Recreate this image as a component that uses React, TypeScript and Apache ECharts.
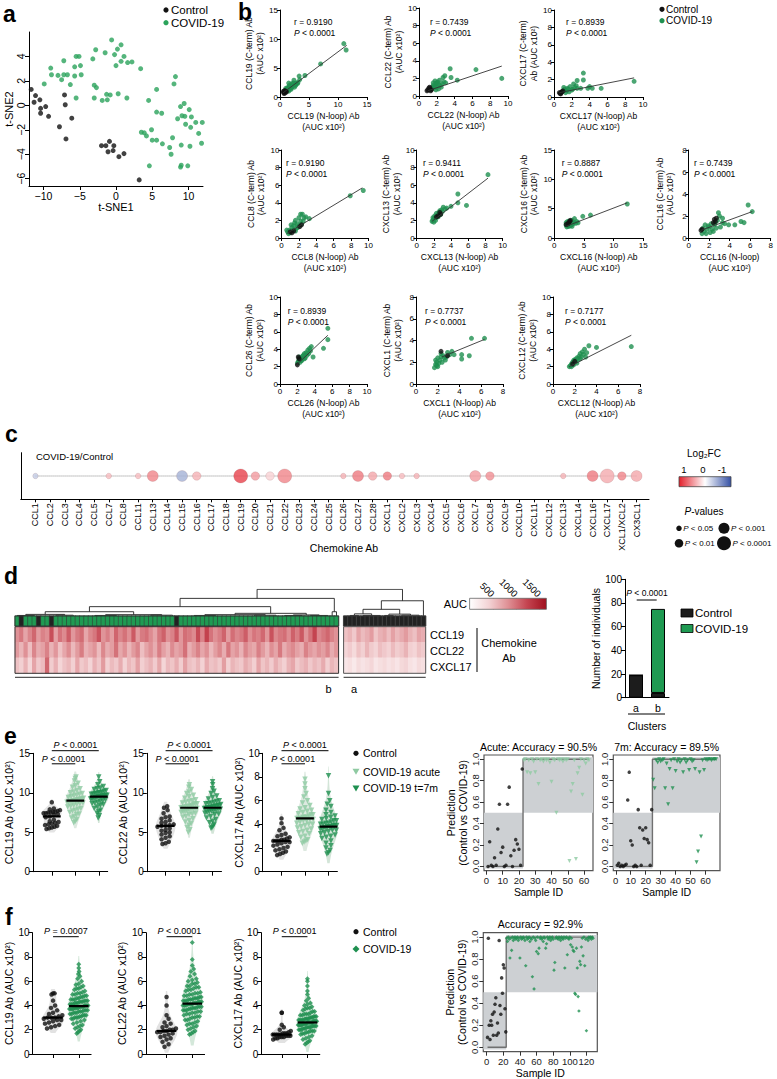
import React, { useEffect, useRef } from "react";
import * as echarts from "echarts";

/* ============================ DATA ============================ */

// a — t-SNE
const TSNE_CONTROL: number[][] = [
  [-11.7, 1.3], [-11.1, 0.8], [-11.3, 0.25], [-10.5, 0.45], [-10.4, -0.25], [-10.4, -0.65],
  [-9.7, -0.1], [-9.3, -0.9], [-7.1, 0.85], [-7.0, 0.05], [-6.1, -1.05], [-7.8, -1.75],
  [-6.9, -2.75], [-2.0, -3.3], [-1.4, -3.3], [-0.9, -2.95], [-0.3, -3.3], [-1.1, -3.8],
  [-0.4, -3.7], [0.4, -4.2], [1.1, -3.95], [3.2, -6.1],
];
const TSNE_COVID: number[][] = [
  [-0.6, 5.35], [0.7, 4.95], [0.2, 4.6], [-2.8, 4.55], [-1.5, 4.3], [-0.2, 4.15], [1.1, 4.0],
  [-5.5, 4.0], [-5.1, 4.0], [-3.2, 3.8], [-7.2, 3.65], [0.7, 3.6], [1.6, 3.5], [2.2, 3.55],
  [0.0, 3.25], [-4.9, 3.25], [-5.7, 3.15], [-9.0, 3.05], [3.4, 3.0], [-8.9, 2.5], [-8.0, 2.45],
  [-7.2, 2.5], [-6.7, 2.5], [-5.7, 2.4], [-4.8, 2.5], [-7.5, 2.1], [-6.3, 1.7], [-9.9, 1.75],
  [8.2, 2.35], [8.0, 1.75], [-3.0, 1.65], [-2.7, 1.45], [5.6, 1.3], [-1.3, 0.9], [-0.8, 0.85],
  [0.3, 0.95], [-5.5, 0.6], [-3.0, 0.6], [-1.9, 0.4], [-1.2, 0.45], [1.5, 0.6], [4.5, 0.4],
  [9.4, 0.15], [8.9, -0.1], [10.1, -0.35], [5.6, -0.55], [6.3, -0.65], [9.1, -0.85], [9.5, -0.9],
  [10.4, -0.95], [8.5, -1.1], [11.0, -1.4], [9.6, -1.55], [10.3, -1.8], [3.5, -2.2], [3.9, -2.25],
  [4.9, -2.0], [4.2, -2.5], [11.4, -2.3], [11.8, -3.1], [7.8, -2.65], [5.0, -2.85], [5.6, -2.85],
  [6.4, -3.15], [7.4, -3.45], [9.0, -3.25], [10.2, -3.35], [7.6, -4.0], [4.6, -4.95], [9.0, -4.9],
  [8.9, -5.05], [9.9, -4.95], [11.9, -1.4],
];

// b — C-term vs N-loop correlations
const B_NAMES = ["CCL19", "CCL22", "CXCL17", "CCL8", "CXCL13", "CXCL16", "CCL16", "CCL26", "CXCL1", "CXCL12"];
const B_R = ["0.9190", "0.7439", "0.8939", "0.9190", "0.9411", "0.8887", "0.7439", "0.8939", "0.7737", "0.7177"];
const B_XNAMES = [
  "CCL19 (N-loop) Ab\n(AUC x10²)", "CCL22 (N-loop) Ab\n(AUC x10²)", "CXCL17 (N-loop) Ab\n(AUC x10²)",
  "CCL8 (N-loop) Ab\n(AUC x10²)", "CXCL13 (N-loop) Ab\n(AUC x10²)", "CXCL16 (N-loop) Ab\n(AUC x10²)",
  "CCL16 (N-loop)\n(AUC x10²)", "CCL26 (N-loop) Ab\n(AUC x10²)", "CXCL1 (N-loop) Ab\n(AUC x10²)",
  "CXCL12 (N-loop) Ab\n(AUC x10²)",
];
const B_YNAMES = [
  "CCL19 (C-term) Ab\n(AUC x10²)", "CCL22 (C-term) Ab\n(AUC x10²)", "CXCL17 (C-term)\nAb (AUC x10²)",
  "CCL8 (C-term) Ab\n(AUC x10²)", "CXCL13 (C-term) Ab\n(AUC x10²)", "CXCL16 (C-term) Ab\n(AUC x10²)",
  "CCL16 (C-term) Ab\n(AUC x10²)", "CCL26 (C-term) Ab\n(AUC x10²)", "CXCL1 (C-term) Ab\n(AUC x10²)",
  "CXCL12 (C-term) Ab\n(AUC x10²)",
];
const B_XRANGE = [[15, 5], [10, 2], [10, 2], [10, 2], [10, 2], [15, 5], [8, 2], [10, 2], [8, 2], [8, 2]];
const B_YRANGE = [[15, 5], [10, 2], [10, 2], [10, 2], [10, 2], [15, 5], [8, 2], [10, 2], [8, 2], [10, 2]];

const B_CCL19_COVID = [[11.0, 9.2], [11.4, 8.1], [7.0, 5.7], [4.3, 3.7], [3.3, 3.6], [3.4, 3.0], [2.4, 2.9], [2.3, 2.4], [2.0, 2.3], [1.6, 2.0], [1.5, 2.4], [1.3, 1.6], [1.0, 1.5], [1.7, 1.4], [2.0, 1.6], [2.7, 2.0], [3.0, 2.3], [1.2, 1.1], [1.8, 1.9], [2.5, 1.7], [1.4, 1.2], [2.2, 1.9], [3.1, 2.5], [2.8, 2.4], [1.1, 1.3], [1.9, 1.3], [1.6, 1.7], [2.6, 2.2], [0.9, 1.0], [1.5, 1.0]];
const B_CCL19_CONTROL = [[0.6, 0.8], [0.8, 0.9], [0.7, 0.6], [1.0, 1.0], [0.9, 0.7], [0.6, 1.0], [1.1, 0.9], [0.8, 1.1]];
const B_CCL19_FIT = [[0.5, 0.7], [11.5, 8.9]];

const B_CCL22_COVID = [[9.3, 2.0], [6.4, 3.0], [3.5, 3.1], [3.6, 2.1], [4.3, 1.8], [2.7, 2.1], [2.9, 2.3], [2.3, 1.8], [2.1, 1.6], [1.8, 1.7], [1.9, 1.4], [2.2, 1.3], [1.6, 1.2], [2.0, 1.0], [2.4, 1.2], [1.7, 0.9], [1.5, 1.0], [2.6, 1.4], [2.2, 0.8], [1.8, 1.1], [1.4, 0.8], [2.0, 1.5], [2.8, 1.6], [1.6, 1.5], [3.0, 1.5], [2.5, 1.0], [1.9, 0.7]];
const B_CCL22_CONTROL = [[1.0, 0.7], [1.2, 0.8], [1.3, 0.6], [1.1, 0.9], [1.4, 0.7], [0.9, 0.6], [1.2, 1.0]];
const B_CCL22_FIT = [[1.0, 0.6], [9.3, 3.4]];

const B_CXCL17_COVID = [[9.0, 1.8], [5.3, 1.0], [4.3, 1.0], [4.0, 1.2], [3.3, 2.75], [3.3, 1.95], [2.6, 1.9], [3.8, 1.0], [2.2, 1.5], [2.5, 1.3], [1.8, 1.2], [1.5, 1.0], [1.2, 0.9], [1.4, 0.7], [2.0, 0.8], [2.6, 1.0], [1.1, 1.1], [1.7, 0.6], [2.3, 1.1], [3.0, 1.0], [1.3, 0.5], [1.0, 0.7], [2.1, 0.9], [1.6, 0.9]];
const B_CXCL17_CONTROL = [[0.7, 0.4], [0.8, 0.5], [0.9, 0.6], [0.6, 0.5], [1.0, 0.7], [0.75, 0.35]];
const B_CXCL17_FIT = [[0.6, 0.5], [9.0, 2.2]];

const B_CCL8_COVID = [[9.4, 5.4], [7.9, 4.8], [2.2, 2.7], [2.4, 2.7], [2.6, 2.3], [3.2, 2.2], [2.0, 2.3], [1.6, 2.0], [1.8, 1.6], [2.2, 1.9], [1.4, 1.4], [1.2, 1.2], [1.9, 1.2], [0.9, 0.9], [0.7, 0.7], [0.6, 0.9], [1.0, 0.6], [1.5, 1.7], [2.0, 1.4], [1.3, 0.9], [0.8, 0.5], [1.7, 1.1], [2.3, 1.6], [1.1, 1.5], [2.8, 2.4], [1.6, 0.8], [2.5, 1.9]];
const B_CCL8_CONTROL = [[1.2, 0.6], [1.4, 0.8], [2.3, 1.5], [1.0, 0.7], [2.1, 1.3]];
const B_CCL8_FIT = [[0.6, 0.5], [9.3, 5.7]];

const B_CXCL13_COVID = [[8.3, 7.2], [4.8, 5.0], [4.8, 4.0], [5.8, 3.7], [4.0, 3.6], [3.1, 3.5], [3.5, 3.4], [2.6, 2.9], [2.9, 3.2], [2.3, 2.8], [2.1, 2.5], [2.5, 2.4], [1.9, 2.0], [1.8, 1.9], [2.0, 2.2], [2.2, 2.0], [2.7, 3.1], [3.3, 3.3], [2.4, 2.6], [2.0, 1.8], [1.9, 2.3], [2.6, 2.6], [3.0, 3.0], [2.2, 2.3], [2.8, 2.7]];
const B_CXCL13_CONTROL = [[2.8, 2.7], [2.5, 2.5], [2.7, 2.9], [2.3, 2.4]];
const B_CXCL13_FIT = [[1.8, 1.9], [8.3, 6.8]];

const B_CXCL16_COVID = [[12.3, 5.8], [6.1, 3.9], [4.8, 3.7], [3.4, 3.3], [3.0, 3.0], [2.5, 2.9], [2.8, 2.7], [3.3, 2.6], [2.2, 2.5], [2.0, 2.2], [2.4, 2.2], [3.1, 2.4], [2.6, 2.4], [2.1, 1.9], [2.3, 2.0], [3.6, 2.5], [2.7, 2.1], [2.9, 2.3], [2.0, 2.6], [3.0, 2.0], [2.2, 2.8], [3.8, 2.8], [2.5, 2.0], [4.0, 2.6]];
const B_CXCL16_CONTROL = [[2.6, 2.8], [2.4, 2.6], [2.3, 2.4], [2.7, 3.0], [2.0, 2.3]];
const B_CXCL16_FIT = [[2.0, 2.0], [12.3, 6.0]];

const B_CCL16_COVID = [[6.2, 2.4], [5.8, 3.0], [5.1, 1.5], [5.4, 1.4], [3.9, 1.2], [2.9, 2.3], [3.0, 2.0], [2.5, 1.2], [2.2, 1.3], [2.0, 1.0], [1.8, 0.8], [1.6, 1.2], [1.5, 0.6], [1.3, 0.4], [2.3, 0.8], [2.7, 0.9], [3.3, 1.4], [2.1, 0.5], [1.7, 0.4], [3.5, 1.3], [2.8, 1.6], [1.9, 1.1], [2.4, 0.6], [3.1, 1.0], [1.4, 0.9], [2.6, 1.4], [4.5, 1.2], [3.3, 1.8]];
const B_CCL16_CONTROL = [[2.5, 1.7], [2.6, 1.5], [2.7, 1.8], [1.3, 0.8], [1.2, 0.7], [2.4, 1.4]];
const B_CCL16_FIT = [[1.2, 0.7], [6.2, 2.4]];

const B_CCL26_COVID = [[5.5, 6.4], [5.5, 5.1], [5.0, 4.1], [3.8, 3.1], [3.6, 4.3], [3.4, 4.1], [3.2, 3.9], [3.0, 3.6], [2.8, 3.5], [2.6, 3.2], [2.4, 3.0], [2.2, 2.8], [2.3, 2.5], [2.1, 2.6], [2.5, 2.7], [2.9, 3.0], [3.1, 3.3], [2.0, 2.4], [2.7, 3.3], [3.3, 3.5], [2.4, 2.7], [2.6, 2.9], [2.2, 3.1], [3.5, 3.8], [2.8, 2.9]];
const B_CCL26_CONTROL = [[2.0, 2.2], [2.1, 3.1], [2.2, 2.9]];
const B_CCL26_FIT = [[1.9, 2.2], [5.5, 5.6]];

const B_CXCL1_COVID = [[6.3, 4.2], [5.1, 4.2], [4.9, 2.6], [4.2, 2.7], [4.2, 2.3], [3.3, 3.0], [3.1, 2.7], [2.9, 2.9], [2.5, 2.6], [2.3, 2.5], [2.2, 2.2], [2.0, 2.4], [1.9, 2.0], [1.8, 1.8], [1.7, 1.5], [2.1, 1.9], [2.4, 2.0], [2.7, 2.2], [1.8, 2.2], [2.6, 2.4], [2.0, 1.6], [2.3, 2.8], [3.5, 2.7], [1.9, 1.7], [2.8, 2.5]];
const B_CXCL1_CONTROL = [[2.3, 3.0], [2.9, 2.6]];
const B_CXCL1_FIT = [[2.4, 2.5], [6.3, 4.1]];

const B_CXCL12_COVID = [[7.2, 4.3], [3.3, 4.4], [2.9, 4.0], [2.7, 3.7], [2.5, 3.5], [2.4, 3.2], [2.2, 3.0], [2.0, 2.8], [1.8, 2.5], [1.7, 2.3], [1.6, 2.1], [1.5, 2.0], [1.9, 2.2], [2.1, 2.6], [2.3, 2.9], [2.6, 3.1], [2.8, 3.4], [3.0, 3.1], [1.7, 2.0], [2.2, 2.4], [4.0, 4.2], [2.5, 2.9], [1.9, 2.7], [3.1, 3.6]];
const B_CXCL12_CONTROL = [[2.0, 2.6], [1.8, 2.3]];
const B_CXCL12_FIT = [[1.5, 2.0], [7.2, 5.6]];

const B_COVID = [B_CCL19_COVID, B_CCL22_COVID, B_CXCL17_COVID, B_CCL8_COVID, B_CXCL13_COVID, B_CXCL16_COVID, B_CCL16_COVID, B_CCL26_COVID, B_CXCL1_COVID, B_CXCL12_COVID];
const B_CONTROL = [B_CCL19_CONTROL, B_CCL22_CONTROL, B_CXCL17_CONTROL, B_CCL8_CONTROL, B_CXCL13_CONTROL, B_CXCL16_CONTROL, B_CCL16_CONTROL, B_CCL26_CONTROL, B_CXCL1_CONTROL, B_CXCL12_CONTROL];
const B_FIT = [B_CCL19_FIT, B_CCL22_FIT, B_CXCL17_FIT, B_CCL8_FIT, B_CXCL13_FIT, B_CXCL16_FIT, B_CCL16_FIT, B_CCL26_FIT, B_CXCL1_FIT, B_CXCL12_FIT];

// c — bubble plot
const C_CATEGORIES = ["CCL1", "CCL2", "CCL3", "CCL4", "CCL5", "CCL7", "CCL8", "CCL11", "CCL13", "CCL14", "CCL15", "CCL16", "CCL17", "CCL18", "CCL19", "CCL20", "CCL21", "CCL22", "CCL23", "CCL24", "CCL25", "CCL26", "CCL27", "CCL28", "CXCL1", "CXCL2", "CXCL3", "CXCL4", "CXCL5", "CXCL6", "CXCL7", "CXCL8", "CXCL9", "CXCL10", "CXCL11", "CXCL12", "CXCL13", "CXCL14", "CXCL16", "CXCL17", "XCL1/XCL2", "CX3CL1"];
const C_LOG2FC = [-0.3, null, null, null, null, 0.3, null, 0.3, 0.55, null, -0.45, 0.35, null, null, 0.85, 0.45, 0.2, 0.55, null, null, null, 0.35, 0.6, 0.4, 0.6, 0.3, 0.35, null, null, null, 0.45, 0.5, null, null, null, null, 0.35, null, 0.6, 0.38, 0.55, 0.4];
const C_PLEVEL = [1, 0, 0, 0, 0, 1, 0, 1, 3, 0, 3, 2, 0, 0, 4, 2, 2, 4, 0, 0, 0, 1, 3, 2, 2, 1, 1, 0, 0, 0, 3, 2, 0, 0, 0, 0, 1, 0, 3, 4, 2, 3];
const C_PLABELS = ["P < 0.05", "P < 0.01", "P < 0.001", "P < 0.0001"];

// d — heatmap (AUC) and clusters
const D_CCL19_B = [820, 950, 700, 880, 1050, 760, 900, 830, 1180, 720, 980, 860, 1100, 780, 940, 1020, 690, 870, 960, 1150, 800, 910, 740, 1060, 880, 990, 830, 1120, 760, 940, 1000, 850, 700, 960, 1080, 820, 900, 1130, 780, 1010, 950, 860, 1200, 890, 1250, 980, 830, 920, 1070, 760, 1010, 880, 950, 1100, 830, 970, 900, 1040, 790, 1160, 870, 960, 1010, 840, 1080, 930, 1130, 800, 990, 1240, 880, 960, 1050, 900, 820];
const D_CCL22_B = [760, 600, 820, 540, 880, 650, 720, 900, 610, 780, 520, 690, 840, 580, 760, 930, 620, 710, 800, 560, 870, 650, 740, 990, 680, 810, 600, 760, 880, 540, 700, 820, 650, 920, 730, 610, 850, 700, 780, 1000, 640, 760, 900, 690, 820, 580, 740, 870, 650, 960, 710, 800, 620, 880, 740, 680, 910, 760, 600, 830, 700, 950, 650, 780, 860, 720, 640, 900, 770, 690, 820, 740, 880, 660, 790];
const D_CXCL17_B = [520, 430, 610, 380, 700, 480, 560, 1050, 450, 620, 390, 510, 580, 430, 690, 470, 540, 400, 620, 490, 760, 430, 560, 480, 650, 410, 580, 500, 720, 440, 530, 610, 460, 680, 390, 570, 500, 640, 450, 720, 530, 480, 590, 420, 660, 510, 560, 470, 740, 430, 600, 520, 480, 650, 560, 440, 700, 500, 590, 460, 640, 520, 430, 610, 690, 470, 550, 620, 480, 580, 510, 660, 440, 590, 520];
const D_CCL19_A = [520, 600, 480, 700, 560, 640, 750, 500, 620, 680, 540, 720, 580, 660, 760, 610, 530, 700, 650];
const D_CCL22_A = [380, 460, 350, 520, 430, 600, 470, 400, 540, 480, 420, 560, 450, 500, 610, 440, 390, 520, 470];
const D_CXCL17_A = [230, 290, 210, 330, 260, 310, 380, 240, 300, 350, 270, 320, 250, 360, 400, 280, 230, 340, 300];
// 0 = COVID-19, 1 = Control
const D_STATUS_B = [0, 1, 0, 0, 0, 1, 0, 0, 1, 0, 0, 0, 0, 0, 0, 0, 0, 0, 0, 0, 0, 0, 0, 0, 0, 0, 0, 0, 0, 0, 0, 0, 0, 0, 0, 0, 0, 1, 0, 0, 0, 0, 0, 0, 0, 0, 0, 0, 0, 0, 0, 0, 0, 0, 0, 0, 0, 0, 0, 0, 0, 0, 0, 0, 0, 0, 0, 0, 0, 0, 0, 0, 0, 0, 0];
const D_STATUS_A = [1, 1, 1, 1, 1, 1, 1, 1, 1, 1, 1, 1, 1, 1, 1, 1, 1, 1, 1];
const D_ROWS = ["CCL19", "CCL22", "CXCL17"];
// dendrogram links: [xLeftChild, hLeftChild, xRightChild, hRightChild, mergeHeight] (column units)
const D_DENDRO = [
  [56.1, 0.66, 89.8, 0.57, 1.0],
  [38.25, 0.35, 74.0, 0.16, 0.66],
  [17.25, 0.16, 59.25, 0.1, 0.35],
  [73.5, 0, 74.5, 0, 0.16],
  [7.0, 0.06, 27.5, 0.05, 0.16],
  [51.0, 0.05, 67.5, 0.04, 0.1],
  [2.5, 0.02, 11.5, 0.03, 0.06],
  [21.0, 0.02, 34.0, 0.03, 0.05],
  [44.0, 0.02, 58.0, 0.03, 0.05],
  [64.5, 0.02, 70.5, 0.02, 0.04],
  [0.5, 0, 4.5, 0, 0.02], [9.5, 0, 13.5, 0, 0.03], [18.5, 0, 23.5, 0, 0.02], [31.5, 0, 36.5, 0, 0.03],
  [41.5, 0, 46.5, 0, 0.02], [55.5, 0, 60.5, 0, 0.03], [62.5, 0, 66.5, 0, 0.02], [68.5, 0, 72.5, 0, 0.02],
  [84.9, 0.25, 94.65, 0, 0.57],
  [80.65, 0.08, 89.15, 0.07, 0.25],
  [78.65, 0.02, 82.65, 0.02, 0.08],
  [86.65, 0.02, 91.65, 0.03, 0.07],
  [77.65, 0, 79.65, 0, 0.02], [80.65, 0, 84.65, 0, 0.02], [85.65, 0, 87.65, 0, 0.02], [89.65, 0, 93.65, 0, 0.03],
];
const D_CLUSTERS = ["a", "b"];
const D_BAR_CONTROL = [19, 4];
const D_BAR_COVID = [0, 71];

// e — acute / 7 months
const E_NAMES = ["CCL19 Ab (AUC x10²)", "CCL22 Ab (AUC x10²)", "CXCL17 Ab (AUC x10²)"];
const E_YRANGE = [[15, 5], [15, 5], [10, 2]];
const E_CCL19 = [
  [8.8, 8.0, 7.9, 7.8, 7.7, 7.6, 7.6, 7.5, 7.5, 7.4, 7.4, 7.3, 7.2, 7.0, 6.9, 6.6, 6.4, 6.3, 6.2, 6.1, 6.0, 5.9, 5.8, 5.7, 5.6, 5.5, 5.4],
  [12.0, 11.8, 11.5, 11.2, 10.9, 10.7, 10.5, 10.3, 10.1, 10.0, 9.9, 9.8, 9.6, 9.5, 9.4, 9.3, 9.2, 9.1, 9.1, 9.0, 9.0, 8.9, 8.8, 8.7, 8.6, 8.5, 8.4, 8.3, 8.2, 8.0, 7.9, 7.8, 7.7, 7.5, 7.3, 7.2, 7.0, 6.8, 6.6, 6.4, 6.2, 8.9, 9.2, 8.8, 9.7],
  [12.0, 11.4, 11.0, 10.8, 10.6, 10.5, 10.4, 10.3, 10.2, 10.1, 10.0, 9.9, 9.9, 9.8, 9.7, 9.7, 9.6, 9.6, 9.5, 9.5, 9.5, 9.4, 9.4, 9.3, 9.3, 9.2, 9.1, 9.0, 8.9, 8.8, 8.7, 8.6, 8.5, 8.4, 8.2, 8.0, 7.8, 7.6, 7.4, 7.1, 6.8, 9.6, 9.8, 10.0, 9.2],
];
const E_CCL22 = [
  [8.3, 8.1, 7.8, 7.4, 7.0, 6.9, 6.7, 6.5, 6.3, 6.2, 6.0, 5.9, 5.8, 5.8, 5.7, 5.5, 5.3, 5.2, 5.0, 4.9, 4.7, 4.5, 4.3, 4.1, 3.8, 3.6, 3.5],
  [11.0, 10.7, 10.4, 10.1, 9.9, 9.7, 9.5, 9.3, 9.1, 9.0, 8.9, 8.7, 8.6, 8.5, 8.4, 8.3, 8.2, 8.2, 8.1, 8.1, 8.0, 8.0, 7.9, 7.8, 7.7, 7.6, 7.5, 7.4, 7.3, 7.2, 7.0, 6.9, 6.7, 6.5, 6.3, 6.1, 5.9, 5.6, 5.3, 5.0, 8.3, 7.9, 8.6, 7.6, 8.8],
  [11.4, 11.0, 10.5, 10.2, 9.9, 9.6, 9.4, 9.2, 9.0, 8.9, 8.8, 8.7, 8.6, 8.5, 8.4, 8.3, 8.2, 8.2, 8.1, 8.1, 8.1, 8.0, 8.0, 7.9, 7.8, 7.7, 7.6, 7.5, 7.4, 7.3, 7.2, 7.0, 6.8, 6.6, 6.4, 6.2, 6.0, 5.8, 5.6, 5.5, 8.4, 7.9, 8.3, 7.7, 8.6],
];
const E_CXCL17 = [
  [4.5, 4.1, 3.7, 3.5, 3.2, 3.1, 3.0, 2.9, 2.8, 2.7, 2.7, 2.6, 2.6, 2.6, 2.5, 2.5, 2.4, 2.3, 2.2, 2.1, 2.0, 1.9, 1.8, 1.7, 1.6, 1.5, 1.4],
  [7.8, 7.4, 7.0, 6.6, 6.3, 6.0, 5.8, 5.6, 5.4, 5.2, 5.1, 5.0, 4.9, 4.8, 4.7, 4.6, 4.6, 4.5, 4.5, 4.5, 4.4, 4.4, 4.3, 4.2, 4.1, 4.0, 3.9, 3.8, 3.7, 3.6, 3.5, 3.4, 3.3, 3.2, 3.0, 2.9, 2.7, 2.6, 2.5, 2.4, 4.8, 4.3, 5.3, 4.0, 4.6],
  [8.1, 6.6, 6.0, 5.7, 5.5, 5.2, 5.0, 4.8, 4.6, 4.5, 4.4, 4.3, 4.2, 4.1, 4.0, 4.0, 3.9, 3.9, 3.8, 3.8, 3.8, 3.7, 3.7, 3.6, 3.5, 3.4, 3.3, 3.2, 3.1, 3.0, 2.9, 2.8, 2.6, 2.4, 2.2, 2.0, 1.8, 1.6, 1.5, 3.9, 4.1, 3.6, 4.3, 3.5, 4.7],
];
const E_GROUPS = ["Control", "COVID-19 acute", "COVID-19 t=7m"];
// prediction per sample (sample ID = position in list, controls first)
const ACUTE_CTRL_PRED = [0.0, 0.23, 0.01, 0.0, 0.08, 0.01, 0.35, 0.58, 0.13, 0.18, 0.0, 0.01, 0.58, 0.74, 0.1, 0.0, 0.15, 0.25, 0.21, 0.16, 0.01, 0.91];
const ACUTE_COVID_PRED = [0.99, 1.0, 0.88, 0.99, 0.87, 1.0, 0.98, 0.88, 1.0, 0.77, 0.99, 1.0, 0.98, 1.0, 0.99, 1.0, 0.97, 0.79, 1.0, 0.99, 0.5, 1.0, 0.99, 1.0, 0.98, 1.0, 0.99, 1.0, 0.05, 0.7, 0.77, 0.99, 0.07, 0.87, 0.92, 1.0, 0.67, 0.99, 0.96, 1.0, 0.99];
const M7_CTRL_PRED = [0.01, 0.03, 0.0, 0.01, 0.0, 0.01, 0.02, 0.62, 0.88, 0.24, 0.2, 0.0, 0.01, 0.0, 0.53, 0.36, 0.01, 0.34, 0.26, 0.36, 0.25, 0.22, 0.01, 0.53];
const M7_COVID_PRED = [0.81, 0.73, 0.99, 0.97, 1.0, 0.98, 0.99, 1.0, 0.73, 0.96, 0.58, 0.91, 0.99, 0.73, 1.0, 0.89, 0.98, 1.0, 0.97, 0.99, 0.88, 1.0, 0.97, 0.99, 0.9, 1.0, 0.98, 0.99, 0.91, 0.04, 0.14, 0.88, 0.28, 0.99, 0.9, 1.0, 0.99, 1.0, 1.0, 0.99, 1.0, 1.0, 1.0];

// f — second cohort
const F_NAMES = ["CCL19 Ab (AUC x10²)", "CCL22 Ab (AUC x10²)", "CXCL17 Ab (AUC x10²)"];
const F_CCL19 = [
  [5.0, 5.0, 4.9, 4.4, 4.0, 3.8, 3.6, 3.4, 3.3, 3.2, 3.1, 3.0, 3.0, 3.0, 2.9, 2.8, 2.8, 2.7, 2.6, 2.5, 2.4, 2.3, 2.2, 2.1],
  [7.4, 7.1, 6.8, 6.6, 6.4, 6.2, 6.0, 5.8, 5.7, 5.6, 5.5, 5.4, 5.3, 5.2, 5.1, 5.0, 4.9, 4.9, 4.8, 4.7, 4.7, 4.6, 4.5, 4.5, 4.4, 4.4, 4.3, 4.3, 4.2, 4.2, 4.1, 4.1, 4.0, 4.0, 4.0, 3.9, 3.9, 3.9, 3.8, 3.8, 3.8, 3.7, 3.7, 3.7, 3.6, 3.6, 3.5, 3.5, 3.5, 3.4, 3.4, 3.3, 3.3, 3.2, 3.2, 3.1, 3.1, 3.0, 3.0, 2.9, 2.9, 2.8, 2.7, 2.6, 2.5, 2.4, 2.3, 2.2, 2.1, 2.0, 1.9, 1.8, 1.7, 4.1, 3.9, 4.4, 3.6, 4.6, 3.8, 4.2, 5.0, 3.4, 4.0, 4.8, 3.2, 4.3, 5.4, 3.0, 4.5, 3.7],
];
const F_CCL22 = [
  [4.7, 4.0, 3.2, 2.9, 2.6, 2.5, 2.3, 2.2, 2.1, 2.0, 2.0, 1.9, 1.9, 1.8, 1.8, 1.7, 1.6, 1.5, 1.4, 1.3, 1.2, 1.0, 0.8, 0.6],
  [9.2, 7.8, 7.3, 7.0, 6.8, 6.6, 6.4, 6.2, 6.0, 5.9, 5.8, 5.6, 5.5, 5.4, 5.3, 5.2, 5.1, 5.0, 4.9, 4.8, 4.8, 4.7, 4.6, 4.6, 4.5, 4.5, 4.4, 4.4, 4.3, 4.3, 4.2, 4.2, 4.1, 4.1, 4.1, 4.0, 4.0, 3.9, 3.9, 3.8, 3.8, 3.7, 3.7, 3.6, 3.6, 3.5, 3.4, 3.4, 3.3, 3.2, 3.1, 3.0, 2.9, 2.8, 2.7, 2.6, 2.5, 2.4, 2.3, 2.2, 2.1, 2.0, 1.9, 1.8, 1.7, 1.6, 4.5, 3.9, 5.0, 4.2, 3.5, 4.7, 5.6, 3.0, 4.4, 2.8, 4.9, 3.8, 5.3, 4.0, 3.3, 6.1, 4.3, 2.5, 5.5, 4.6, 3.6, 4.1, 3.1, 5.8],
];
const F_CXCL17 = [
  [3.4, 3.4, 2.4, 2.2, 2.0, 1.9, 1.8, 1.7, 1.7, 1.6, 1.6, 1.6, 1.6, 1.5, 1.5, 1.5, 1.4, 1.4, 1.4, 1.3, 1.3, 1.2, 1.6, 1.7],
  [6.2, 6.0, 5.6, 5.2, 4.9, 4.6, 4.4, 4.2, 4.0, 3.9, 3.8, 3.7, 3.6, 3.5, 3.4, 3.3, 3.3, 3.2, 3.1, 3.1, 3.0, 3.0, 2.9, 2.9, 2.8, 2.8, 2.8, 2.7, 2.7, 2.7, 2.6, 2.6, 2.6, 2.6, 2.5, 2.5, 2.5, 2.4, 2.4, 2.4, 2.3, 2.3, 2.3, 2.2, 2.2, 2.1, 2.1, 2.0, 2.0, 1.9, 1.9, 1.8, 1.8, 1.7, 1.6, 1.5, 1.4, 1.3, 1.2, 1.1, 1.0, 0.9, 0.8, 2.6, 2.9, 2.4, 3.2, 2.2, 2.7, 3.5, 2.0, 2.8, 3.0, 2.5, 1.7, 2.3, 3.8, 2.6, 2.1, 3.3, 2.9, 2.4, 2.7, 1.9, 3.1, 2.5, 2.8, 4.1, 2.2, 2.6],
];
const F_GROUPS = ["Control", "COVID-19"];
const F_CTRL_PRED = [0.09, 0.99, 0.2, 0.07, 0.24, 0.2, 0.3, 0.11, 0.32, 0.39, 0.45, 0.11, 0.22, 0.13, 0.97, 0.38, 0.3, 0.63, 0.49, 0.75, 0.72, 0.35, 0.14];
const F_COVID_PRED = [
  0.99, 0.96, 1.0, 0.98, 0.81, 0.99, 0.88, 1.0, 0.97, 0.99,
  1.0, 0.98, 0.99, 1.0, 0.97, 0.99, 0.81, 1.0, 0.98, 0.99,
  1.0, 0.99, 0.97, 0.74, 1.0, 0.98, 0.99, 1.0, 0.96, 0.99,
  0.98, 0.64, 1.0, 0.53, 0.99, 0.97, 0.87, 1.0, 0.85, 0.9,
  0.99, 1.0, 0.98, 0.99, 0.96, 1.0, 0.99, 0.9, 0.94, 1.0,
  0.98, 0.99, 1.0, 0.97, 0.99, 1.0, 0.98, 0.7, 0.77, 0.99,
  1.0, 0.99, 0.98, 1.0, 0.99, 0.97, 1.0, 0.99, 0.98, 1.0,
  0.72, 0.99, 1.0, 0.84, 0.99, 0.98, 1.0, 0.93, 0.99, 0.91,
  0.88, 0.87, 0.49, 0.48, 0.9, 0.72, 0.46, 0.33, 0.78, 0.75,
  0.91, 0.99, 0.83, 1.0, 0.74, 0.98, 0.15, 0.99, 0.97, 1.0,
  0.99, 1.0, 0.98, 1.0, 0.99,
];

/* ============================ STYLE / LAYOUT ============================ */
const FONT = "'Liberation Sans', Arial, Helvetica, sans-serif";
const BLACK = "#111111";
const GREEN_A = "#2ba35b";
const GREEN_B = "#1f9050";
const GREEN_LIGHT = "#8fcaa2";
const GREEN_DARK = "#1f9050";
const GREEN_HEAT = "#1f9a52";
const HEAT_COLORS = ["#ffffff", "#f3d3d5", "#df9095", "#c44450", "#a0101e"];
const FC_COLORS = ["#3551a4", "#ffffff", "#e3202b"];
const P_SIZES = [0, 5.5, 8.5, 11, 14];

const B_LAYOUT = [
  { left: 280, top: 10, w: 87, h: 87, tx: 294, ty: 21.7 },
  { left: 419, top: 8, w: 89, h: 88, tx: 430, ty: 21.7 },
  { left: 554, top: 10, w: 89, h: 87, tx: 566, ty: 21.7 },
  { left: 281.5, top: 150, w: 87, h: 88, tx: 286, ty: 163.3 },
  { left: 416.6, top: 150, w: 86, h: 88, tx: 423, ty: 163.3 },
  { left: 554.3, top: 150, w: 89, h: 88, tx: 561.7, ty: 163.3 },
  { left: 688.7, top: 150, w: 82, h: 88, tx: 694, ty: 163.3 },
  { left: 280, top: 297, w: 87, h: 87, tx: 287.7, ty: 310.7 },
  { left: 416, top: 297, w: 87, h: 87, tx: 425, ty: 310.7 },
  { left: 553, top: 297, w: 87, h: 87, tx: 565, ty: 310.7 },
];
const E_LAYOUT = [
  { left: 33, top: 753.3, w: 74.7, h: 118.4 },
  { left: 146.8, top: 753.3, w: 74.7, h: 118.4 },
  { left: 262.7, top: 753.3, w: 74.7, h: 118.4 },
];
const F_LAYOUT = [
  { left: 32.5, top: 932.7, w: 58.6, h: 121.3 },
  { left: 146, top: 932.7, w: 58.6, h: 121.3 },
  { left: 261.2, top: 932.7, w: 58.6, h: 121.3 },
];

/* ============================ HELPERS ============================ */
function merge(a: any, b: any): any {
  const out: any = { ...a };
  for (const k of Object.keys(b || {})) {
    const bv = b[k];
    const av = out[k];
    if (bv && typeof bv === "object" && !Array.isArray(bv) && av && typeof av === "object" && !Array.isArray(av)) out[k] = merge(av, bv);
    else out[k] = bv;
  }
  return out;
}
function axis(o: any = {}) {
  return merge(
    {
      type: "value",
      nameLocation: "middle",
      axisLine: { show: true, onZero: false, lineStyle: { color: "#000", width: 1 } },
      axisTick: { show: true, inside: false, length: 3, lineStyle: { color: "#000", width: 1 } },
      axisLabel: { show: true, color: "#000", fontSize: 8, fontFamily: FONT, margin: 3 },
      splitLine: { show: false },
      nameTextStyle: { color: "#000", fontSize: 8.5, fontFamily: FONT, lineHeight: 10.5 },
    },
    o
  );
}
const minus = (v: number) => (v < 0 ? "\u2212" + Math.abs(v) : String(v));
function median(vals: number[]) {
  const s = [...vals].sort((a, b) => a - b);
  const n = s.length;
  return n % 2 ? s[(n - 1) / 2] : (s[n / 2 - 1] + s[n / 2]) / 2;
}
// kernel density (for violins and for constraining the dot spread)
function kde(vals: number[]) {
  const mn = Math.min(...vals);
  const mx = Math.max(...vals);
  const bw = (mx - mn) * 0.14 + 0.05;
  const f = (y: number) => {
    let d = 0;
    for (const v of vals) { const z = (y - v) / bw; d += Math.exp(-0.5 * z * z); }
    return d;
  };
  const lo = mn - bw * 0.8;
  const hi = mx + bw * 0.8;
  const pts: number[][] = [];
  for (let s = 0; s <= 48; s++) { const y = lo + ((hi - lo) * s) / 48; pts.push([y, f(y)]); }
  const dmax = Math.max(...pts.map((p) => p[1]));
  return { pts, frac: (y: number) => f(y) / dmax };
}
// GraphPad-like scatter: points binned into rows, spread horizontally inside the violin width
function swarm(vals: number[], center: number, pxX: number, pxY: number, d: number, halfW: (y: number) => number) {
  const sorted = [...vals].sort((a, b) => a - b);
  const rowH = (d * 0.85) / pxY;
  const rows: number[][] = [];
  let cur: number[] = [];
  let start = -Infinity;
  for (const v of sorted) {
    if (v - start > rowH) { if (cur.length) rows.push(cur); cur = [v]; start = v; } else cur.push(v);
  }
  if (cur.length) rows.push(cur);
  const out: number[][] = [];
  for (const row of rows) {
    const n = row.length;
    const mid = row[Math.floor(n / 2)];
    const maxW = Math.max(halfW(mid) * 2 - d * 0.6, 0);
    const sp = n > 1 ? Math.min(d * 0.9, maxW / (n - 1)) : 0;
    row.forEach((v, j) => out.push([center + ((j - (n - 1) / 2) * sp) / pxX, v]));
  }
  return out;
}

/* ============================ OPTION ============================ */
function buildOption() {
  const grid: any[] = [];
  const xAxis: any[] = [];
  const yAxis: any[] = [];
  const series: any[] = [];
  const graphic: any[] = [];
  const visualMap: any[] = [];

  const addGrid = (l: number, t: number, w: number, h: number, x: any, y: any, extra: any = {}) => {
    const i = grid.length;
    grid.push({ left: l, top: t, width: w, height: h, containLabel: false, outerBoundsMode: "none", ...extra });
    xAxis.push({ ...x, gridIndex: i });
    yAxis.push({ ...y, gridIndex: i });
    return i;
  };
  const addS = (s: any) => { series.push(s); return series.length - 1; };
  const T = (x: number, y: number, text: string, o: any = {}) => {
    const style: any = {
      text, fill: o.color || "#000", fontFamily: FONT, fontSize: o.size || 9,
      fontWeight: o.weight || "normal", fontStyle: o.italic ? "italic" : "normal",
      align: o.align || "left", verticalAlign: o.valign || "middle",
    };
    if (o.rich) style.rich = o.rich;
    graphic.push({ type: "text", x, y, rotation: o.rotation || 0, silent: true, z: 50, style });
  };
  const richP = (size: number) => ({ i: { fontStyle: "italic", fontSize: size, fontFamily: FONT, fill: "#000" } });
  const L = (x1: number, y1: number, x2: number, y2: number, color = "#000", width = 1) =>
    graphic.push({ type: "line", silent: true, z: 50, shape: { x1, y1, x2, y2 }, style: { stroke: color, lineWidth: width } });
  const C = (cx: number, cy: number, r: number, fill: string) =>
    graphic.push({ type: "circle", silent: true, z: 50, shape: { cx, cy, r }, style: { fill } });
  const POLY = (pts: number[][], fill: string) =>
    graphic.push({ type: "polygon", silent: true, z: 50, shape: { points: pts }, style: { fill } });
  const R = (x: number, y: number, w: number, h: number, style: any) =>
    graphic.push({ type: "rect", silent: true, z: 50, shape: { x, y, width: w, height: h }, style });

  // panel letters
  const letter = (x: number, y: number, s: string) => T(x, y, s, { size: 23, weight: "bold", valign: "middle" });
  letter(3, 14, "a"); letter(238, 12, "b"); letter(5, 434, "c"); letter(4, 576, "d"); letter(4, 736, "e"); letter(5, 917, "f");

  /* ---------- a ---------- */
  const ga = addGrid(29, 32, 174, 154,
    axis({ min: -12, max: 12, axisTick: { customValues: [-10, -5, 0, 5, 10], length: 4 }, axisLabel: { customValues: [-10, -5, 0, 5, 10], fontSize: 10.5, formatter: minus, margin: 4 }, name: "t-SNE1", nameGap: 16, nameTextStyle: { fontSize: 11 } }),
    axis({ min: -6.6, max: 6, axisTick: { customValues: [-6, -4, -2, 0, 2, 4], length: 4 }, axisLabel: { customValues: [-6, -4, -2, 0, 2, 4], rotate: 90, fontSize: 10.5, formatter: minus, margin: 3 }, name: "t-SNE2", nameGap: 13, nameTextStyle: { fontSize: 11 } }));
  addS({ type: "scatter", xAxisIndex: ga, yAxisIndex: ga, data: TSNE_COVID, symbolSize: 5, itemStyle: { color: GREEN_A } });
  addS({ type: "scatter", xAxisIndex: ga, yAxisIndex: ga, data: TSNE_CONTROL, symbolSize: 5, itemStyle: { color: BLACK } });
  C(166, 10, 2.6, BLACK); T(171, 10, "Control", { size: 11.5 });
  C(166, 22.7, 2.6, GREEN_A); T(171, 22.7, "COVID-19", { size: 11.5 });

  /* ---------- b ---------- */
  B_NAMES.forEach((_nm, k) => {
    const lay = B_LAYOUT[k];
    const [xm, xs] = B_XRANGE[k];
    const [ym, ys] = B_YRANGE[k];
    const gi = addGrid(lay.left, lay.top, lay.w, lay.h,
      axis({ min: 0, max: xm, interval: xs, name: B_XNAMES[k], nameGap: 14 }),
      axis({ min: 0, max: ym, interval: ys, name: B_YNAMES[k], nameGap: 13, axisLabel: { margin: 2 } }));
    addS({ type: "scatter", xAxisIndex: gi, yAxisIndex: gi, data: B_COVID[k], symbolSize: 5, itemStyle: { color: GREEN_B }, z: 2 });
    addS({ type: "scatter", xAxisIndex: gi, yAxisIndex: gi, data: B_CONTROL[k], symbolSize: 5, itemStyle: { color: BLACK }, z: 3 });
    addS({ type: "line", xAxisIndex: gi, yAxisIndex: gi, data: B_FIT[k], symbol: "none", lineStyle: { color: "#333", width: 0.9 }, z: 4 });
    T(lay.tx, lay.ty, "r = " + B_R[k], { size: 8.5 });
    T(lay.tx, lay.ty + 11, "{i|P} < 0.0001", { size: 8.5, rich: richP(8.5) });
  });
  C(662, 9.3, 2.6, BLACK); T(666, 9.3, "Control", { size: 10 });
  C(662, 20.7, 2.6, GREEN_B); T(666, 20.7, "COVID-19", { size: 10 });

  /* ---------- c ---------- */
  const catIdx = C_CATEGORIES.map((_, i) => i + 1);
  const gc = addGrid(20.8, 452.7, 628.2, 46.6,
    axis({ min: 0, max: 42.85, axisTick: { customValues: catIdx, length: 3 }, axisLabel: { customValues: catIdx, rotate: 90, fontSize: 9, margin: 4, formatter: (v: number) => C_CATEGORIES[Math.round(v) - 1] || "" } }),
    axis({ min: 0, max: 1, axisTick: { show: false }, axisLabel: { show: false } }));
  addS({ type: "line", xAxisIndex: gc, yAxisIndex: gc, data: [[1, 0.5], [C_CATEGORIES.length, 0.5]], symbol: "none", lineStyle: { color: "#8a8a8a", width: 1.2, type: [1, 1] }, z: 1 });
  const bubbles: any[] = [];
  C_CATEGORIES.forEach((_c, i) => {
    if (C_LOG2FC[i] !== null) bubbles.push([i + 1, 0.5, C_LOG2FC[i], C_PLEVEL[i]]);
  });
  const bubbleIdx = addS({ type: "scatter", xAxisIndex: gc, yAxisIndex: gc, data: bubbles, symbolSize: (v: number[]) => P_SIZES[v[3]], itemStyle: { borderColor: "rgba(120,60,60,0.35)", borderWidth: 0.5 }, z: 3 });
  visualMap.push({ type: "continuous", show: false, min: -1, max: 1, dimension: 2, seriesIndex: [bubbleIdx], inRange: { color: FC_COLORS } });
  T(36, 456.5, "COVID-19/Control", { size: 9.5 });
  T(344, 548, "Chemokine Ab", { size: 10.5, align: "center" });
  // legend: Log2FC
  T(704, 453, "Log\u2082FC", { size: 10, align: "center" });
  T(684, 469, "1", { size: 9.5, align: "center" });
  T(703, 469, "0", { size: 9.5, align: "center" });
  T(722, 469, "-1", { size: 9.5, align: "center" });
  R(679, 476.7, 52, 10, {
    fill: new echarts.graphic.LinearGradient(0, 0, 1, 0, [
      { offset: 0, color: FC_COLORS[2] }, { offset: 0.5, color: FC_COLORS[1] }, { offset: 1, color: FC_COLORS[0] },
    ]),
    stroke: "#444", lineWidth: 0.8,
  });
  T(704, 511, "{i|P}-values", { size: 10, align: "center", rich: richP(10) });
  [[679, 528.3, 1], [679, 543.3, 2], [724, 528.3, 3], [724, 543.3, 4]].forEach(([x, y, p]) => {
    C(x, y, P_SIZES[p] / 2, BLACK);
    T(x + P_SIZES[p] / 2 + 1.5, y, C_PLABELS[p - 1].replace("P", "{i|P}"), { size: 8, rich: richP(8) });
  });

  /* ---------- d: dendrogram ---------- */
  const gd = addGrid(15, 589.3, 410.8, 26.7,
    axis({ min: 0, max: 95.2, show: false }), axis({ min: 0, max: 1, show: false }));
  addS({
    type: "lines", coordinateSystem: "cartesian2d", xAxisIndex: gd, yAxisIndex: gd, polyline: true, silent: true,
    lineStyle: { color: "#222", width: 0.9, opacity: 1 },
    data: D_DENDRO.map(([x1, h1, x2, h2, h]) => ({ coords: [[x1, h1], [x1, h], [x2, h], [x2, h2]] })),
  });

  /* ---------- d: annotation bars + heatmaps ---------- */
  const nB = D_CCL19_B.length;
  const nA = D_CCL19_A.length;
  const catAxis = (n: number) => ({ type: "category", data: Array.from({ length: n }, (_, i) => String(i)), show: false });
  const annB = addGrid(15, 616, 323.6, 10, catAxis(nB), { type: "category", data: ["s"], show: false });
  const annA = addGrid(343.6, 616, 82.1, 10, catAxis(nA), { type: "category", data: ["s"], show: false });
  const sAnnB = addS({ type: "heatmap", xAxisIndex: annB, yAxisIndex: annB, data: D_STATUS_B.map((s, i) => [i, 0, s]), itemStyle: { borderColor: "#333", borderWidth: 0.5 } });
  const sAnnA = addS({ type: "heatmap", xAxisIndex: annA, yAxisIndex: annA, data: D_STATUS_A.map((s, i) => [i, 0, s]), itemStyle: { borderColor: "#555", borderWidth: 0.5 } });
  visualMap.push({ type: "piecewise", show: false, dimension: 2, seriesIndex: [sAnnB, sAnnA], pieces: [{ value: 0, color: GREEN_HEAT }, { value: 1, color: "#222222" }] });

  const rowsY = { type: "category", data: [...D_ROWS].reverse(), show: false };
  const hb = addGrid(15, 626.7, 323.6, 46.6, catAxis(nB), rowsY);
  const ha = addGrid(343.6, 626.7, 82.1, 46.6, catAxis(nA), rowsY);
  const heatData = (r19: number[], r22: number[], r17: number[]) => {
    const out: number[][] = [];
    r19.forEach((v, i) => out.push([i, 2, v]));
    r22.forEach((v, i) => out.push([i, 1, v]));
    r17.forEach((v, i) => out.push([i, 0, v]));
    return out;
  };
  const sHB = addS({ type: "heatmap", xAxisIndex: hb, yAxisIndex: hb, data: heatData(D_CCL19_B, D_CCL22_B, D_CXCL17_B) });
  const sHA = addS({ type: "heatmap", xAxisIndex: ha, yAxisIndex: ha, data: heatData(D_CCL19_A, D_CCL22_A, D_CXCL17_A) });
  visualMap.push({ type: "continuous", show: false, min: 0, max: 1650, dimension: 2, seriesIndex: [sHB, sHA], inRange: { color: HEAT_COLORS } });
  R(15, 616, 323.6, 10, { fill: "none", stroke: "#333", lineWidth: 0.8 });
  R(343.6, 616, 82.1, 10, { fill: "none", stroke: "#333", lineWidth: 0.8 });
  R(15, 626.7, 323.6, 46.6, { fill: "none", stroke: "#333", lineWidth: 1 });
  R(343.6, 626.7, 82.1, 46.6, { fill: "none", stroke: "#555", lineWidth: 1 });
  L(15, 677.3, 338.6, 677.3, "#555", 1.2);
  L(343.6, 677.3, 425.7, 677.3, "#555", 1.2);
  T(328.6, 689.3, "b", { size: 11, align: "center" });
  T(354, 689.3, "a", { size: 11, align: "center" });
  T(430, 635, D_ROWS[0], { size: 11 });
  T(430, 650.5, D_ROWS[1], { size: 11 });
  T(430, 666.5, D_ROWS[2], { size: 11 });
  L(477, 628, 477, 672, "#000", 1);
  T(509, 643.3, "Chemokine", { size: 11, align: "center" });
  T(509, 658.3, "Ab", { size: 11, align: "center" });
  // AUC colour bar
  T(467, 603.8, "AUC", { size: 11, align: "right" });
  R(469.6, 598.3, 76.8, 11, {
    fill: new echarts.graphic.LinearGradient(0, 0, 1, 0, HEAT_COLORS.map((c, i) => ({ offset: i / (HEAT_COLORS.length - 1), color: c }))),
    stroke: "#666", lineWidth: 0.8,
  });
  addGrid(469.6, 598.3, 76.8, 11,
    axis({ min: 0, max: 1650, position: "top", axisLine: { show: false }, axisTick: { inside: true, length: 11, customValues: [500, 1000, 1500], lineStyle: { color: "rgba(60,0,0,0.45)", width: 0.8 } }, axisLabel: { customValues: [500, 1000, 1500], rotate: 45, fontSize: 9.5, margin: 3, formatter: (v: number) => String(v) } }),
    axis({ min: 0, max: 1, show: false }));

  /* ---------- d: bar chart ---------- */
  const gbar = addGrid(625, 579.3, 44, 118.4,
    { type: "category", data: D_CLUSTERS, axisLine: { show: true, lineStyle: { color: "#000" } }, axisTick: { show: false }, axisLabel: { color: "#000", fontSize: 10.5, fontFamily: FONT, margin: 5 } },
    axis({ min: 0, max: 100, interval: 20, axisLabel: { fontSize: 10, margin: 3 }, axisTick: { length: 4 }, name: "Number of individuals", nameGap: 22, nameTextStyle: { fontSize: 10.5 } }));
  addS({ type: "bar", xAxisIndex: gbar, yAxisIndex: gbar, stack: "n", data: D_BAR_CONTROL, barWidth: 14, itemStyle: { color: "#1c1c1c", borderColor: "#000", borderWidth: 1 } });
  addS({ type: "bar", xAxisIndex: gbar, yAxisIndex: gbar, stack: "n", data: D_BAR_COVID, barWidth: 14, itemStyle: { color: GREEN_HEAT, borderColor: "#000", borderWidth: 1 } });
  T(647, 593, "{i|P} < 0.0001", { size: 8.5, align: "center", rich: richP(8.5) });
  L(636.7, 600, 656.7, 600);
  L(628, 714, 665, 714);
  T(647, 725.5, "Clusters", { size: 10.5, align: "center" });
  R(681, 609, 12, 8, { fill: "#1c1c1c", stroke: "#000", lineWidth: 0.8 });
  T(695, 613, "Control", { size: 11.5 });
  R(681, 624.5, 12, 8, { fill: GREEN_HEAT, stroke: "#000", lineWidth: 0.8 });
  T(695, 628.5, "COVID-19", { size: 11.5 });

  /* ---------- e / f dot plots ---------- */
  type GStyle = { symbol: string; rotate: number; color: string; size: number; violin: string };
  const VHALF = 0.42;
  const dotPlot = (lay: any, xmax: number, ymax: number, ystep: number, yname: string, groups: number[][], styles: GStyle[]) => {
    const gi = addGrid(lay.left, lay.top, lay.w, lay.h,
      axis({ min: 0.2, max: xmax, axisTick: { customValues: groups.map((_, i) => i + 1), length: 4 }, axisLabel: { show: false } }),
      axis({ min: 0, max: ymax, interval: ystep, axisTick: { length: 4 }, axisLabel: { fontSize: 10, margin: 3 }, name: yname, nameGap: 15, nameTextStyle: { fontSize: 10.5 } }));
    const pxX = lay.w / (xmax - 0.2);
    const pxY = lay.h / ymax;
    const dens = groups.map((vals) => kde(vals));
    groups.forEach((vals, i) => {
      const c = i + 1;
      const pts = dens[i].pts;
      const dmax = Math.max(...pts.map((p) => p[1]));
      const fill = styles[i].violin;
      addS({
        type: "custom", xAxisIndex: gi, yAxisIndex: gi, silent: true, z: 1, data: [[c, median(vals)]],
        renderItem: (_p: any, api: any) => {
          const left: number[][] = [];
          const right: number[][] = [];
          for (const [y, d] of pts) {
            const w = (VHALF * d) / dmax;
            left.push(api.coord([c - w, y]));
            right.push(api.coord([c + w, y]));
          }
          return { type: "polygon", shape: { points: left.concat(right.reverse()) }, style: { fill } };
        },
      });
    });
    groups.forEach((vals, i) => {
      const st = styles[i];
      const c = i + 1;
      const halfW = (y: number) => VHALF * pxX * Math.max(dens[i].frac(y), 0.12);
      addS({ type: "scatter", xAxisIndex: gi, yAxisIndex: gi, data: swarm(vals, c, pxX, pxY, st.size, halfW), symbol: st.symbol, symbolRotate: st.rotate, symbolSize: st.size, itemStyle: { color: st.color }, z: 3 });
      const med = median(vals);
      addS({ type: "line", xAxisIndex: gi, yAxisIndex: gi, data: [[c - 0.38, med], [c + 0.38, med]], symbol: "none", lineStyle: { color: "#000", width: 2.2 }, z: 4 });
    });
    return (g: number) => lay.left + (g - 0.2) * pxX;
  };
  const E_STYLES: GStyle[] = [
    { symbol: "circle", rotate: 0, color: BLACK, size: 4.5, violin: "#e4e4e4" },
    { symbol: "triangle", rotate: 180, color: GREEN_LIGHT, size: 5.5, violin: "#dde9e0" },
    { symbol: "triangle", rotate: 180, color: GREEN_DARK, size: 5.5, violin: "#d3e5d8" },
  ];
  const F_STYLES: GStyle[] = [
    { symbol: "circle", rotate: 0, color: BLACK, size: 4.5, violin: "#e2e2e2" },
    { symbol: "diamond", rotate: 0, color: GREEN_DARK, size: 5, violin: "#d4e8da" },
  ];
  const E_DATA = [E_CCL19, E_CCL22, E_CXCL17];
  E_DATA.forEach((groups, k) => {
    const gx = dotPlot(E_LAYOUT[k], 3.38, E_YRANGE[k][0], E_YRANGE[k][1], E_NAMES[k], groups, E_STYLES);
    T((gx(1) + gx(3)) / 2, 745, "{i|P} < 0.0001", { size: 9, align: "center", rich: richP(9) });
    L(gx(1), 750.7, gx(3), 750.7);
    T((gx(1) + gx(2)) / 2, 758.8, "{i|P} < 0.0001", { size: 9, align: "center", rich: richP(9) });
    L(gx(1), 763.8, gx(2), 763.8);
  });
  const F_DATA = [F_CCL19, F_CCL22, F_CXCL17];
  const F_P = ["{i|P} = 0.0007", "{i|P} < 0.0001", "{i|P} < 0.0001"];
  F_DATA.forEach((groups, k) => {
    const gx = dotPlot(F_LAYOUT[k], 2.48, 10, 2, F_NAMES[k], groups, F_STYLES);
    T((gx(1) + gx(2)) / 2, 930.7, F_P[k], { size: 9, align: "center", rich: richP(9) });
    L(gx(1), 936.7, gx(2), 936.7);
  });
  // legends e / f
  C(356, 753.3, 2.6, BLACK); T(363, 753.3, E_GROUPS[0], { size: 10.5 });
  POLY([[352.5, 768.8], [359.5, 768.8], [356, 774.8]], GREEN_LIGHT); T(363, 771.7, E_GROUPS[1], { size: 10.5 });
  POLY([[352.5, 785.4], [359.5, 785.4], [356, 791.4]], GREEN_DARK); T(363, 788.3, E_GROUPS[2], { size: 10.5 });
  C(356, 931.7, 2.6, BLACK); T(363, 931.7, F_GROUPS[0], { size: 10.5 });
  POLY([[356, 945.5], [359.5, 949], [356, 952.5], [352.5, 949]], GREEN_DARK); T(363, 949, F_GROUPS[1], { size: 10.5 });

  /* ---------- prediction plots ---------- */
  const predPlot = (lay: any, ctrl: number[], covid: number[], sym: any, title: string, step: number, showY: boolean) => {
    const nC = ctrl.length;
    const nT = nC + covid.length;
    const pad = 0.04 * (nT - 1);
    const xmin = 1 - pad;
    const xmax = nT + pad;
    const xt: number[] = [];
    for (let v = 0; v <= nT; v += step) xt.push(v);
    const yt = [0, 0.2, 0.4, 0.6, 0.8, 1.0];
    const gi = addGrid(lay.left, lay.top, lay.w, lay.h,
      axis({ min: xmin, max: xmax, axisLine: { show: false }, axisTick: { customValues: xt, length: 4, lineStyle: { color: "#333" } }, axisLabel: { customValues: xt, fontSize: 9.5, margin: 5, color: "#222" }, name: "Sample ID", nameGap: 16, nameTextStyle: { fontSize: 10.5 } }),
      axis({ min: -0.04, max: 1.04, axisLine: { show: false }, axisTick: { customValues: yt, length: 4, lineStyle: { color: "#333" } }, axisLabel: { customValues: yt, rotate: 90, fontSize: 9.5, margin: 4, color: "#222", formatter: (v: number) => v.toFixed(1) }, name: showY ? "Prediction\n(Control vs COVID-19)" : "", nameGap: 13, nameTextStyle: { fontSize: 10.5, lineHeight: 12 } }),
      { show: true, borderColor: "#555", borderWidth: 1.2, backgroundColor: "transparent" });
    const b = nC + 0.5;
    addS({
      type: "line", xAxisIndex: gi, yAxisIndex: gi, data: [[1, 0], [b, 0], [b, 1], [nT, 1]], symbol: "none",
      lineStyle: { color: "#707070", width: 1.4 }, z: 2,
      markArea: { silent: true, itemStyle: { color: "#cdd0d3" }, data: [[{ coord: [xmin, -0.02] }, { coord: [b, 0.5] }], [{ coord: [b, 0.5] }, { coord: [xmax, 1.02] }]] },
    });
    addS({ type: "scatter", xAxisIndex: gi, yAxisIndex: gi, data: ctrl.map((v, i) => [i + 1, v]), symbolSize: 3.5, itemStyle: { color: BLACK }, z: 3 });
    addS({ type: "scatter", xAxisIndex: gi, yAxisIndex: gi, data: covid.map((v, i) => [nC + i + 1, v]), symbol: sym.symbol, symbolRotate: sym.rotate, symbolSize: sym.size, itemStyle: { color: sym.color }, z: 3 });
    T(lay.left + lay.w / 2, lay.top - 8.5, title, { size: 10.5, align: "center" });
  };
  predPlot({ left: 484, top: 755, w: 109, h: 115.7 }, ACUTE_CTRL_PRED, ACUTE_COVID_PRED, { symbol: "triangle", rotate: 180, size: 4, color: GREEN_LIGHT }, "Acute: Accuracy = 90.5%", 10, true);
  predPlot({ left: 613.3, top: 755, w: 106.7, h: 115.7 }, M7_CTRL_PRED, M7_COVID_PRED, { symbol: "triangle", rotate: 180, size: 4, color: GREEN_DARK }, "7m: Accuracy = 89.5%", 10, false);
  predPlot({ left: 483.3, top: 932.7, w: 114, h: 119 }, F_CTRL_PRED, F_COVID_PRED, { symbol: "diamond", rotate: 0, size: 3.6, color: GREEN_DARK }, "Accuracy = 92.9%", 20, true);

  return {
    animation: false,
    backgroundColor: "#ffffff",
    textStyle: { fontFamily: FONT },
    grid, xAxis, yAxis, series, graphic, visualMap,
  };
}

export default function App() {
  const ref = useRef<HTMLDivElement>(null);
  useEffect(() => {
    if (!ref.current) return;
    const chart = echarts.init(ref.current, null, { renderer: "svg" });
    chart.setOption(buildOption() as any);
    return () => chart.dispose();
  }, []);
  return (
    <div
      ref={ref}
      style={{ position: "absolute", left: 0, top: 0, width: 777, height: 1079, background: "#fff" }}
    />
  );
}
